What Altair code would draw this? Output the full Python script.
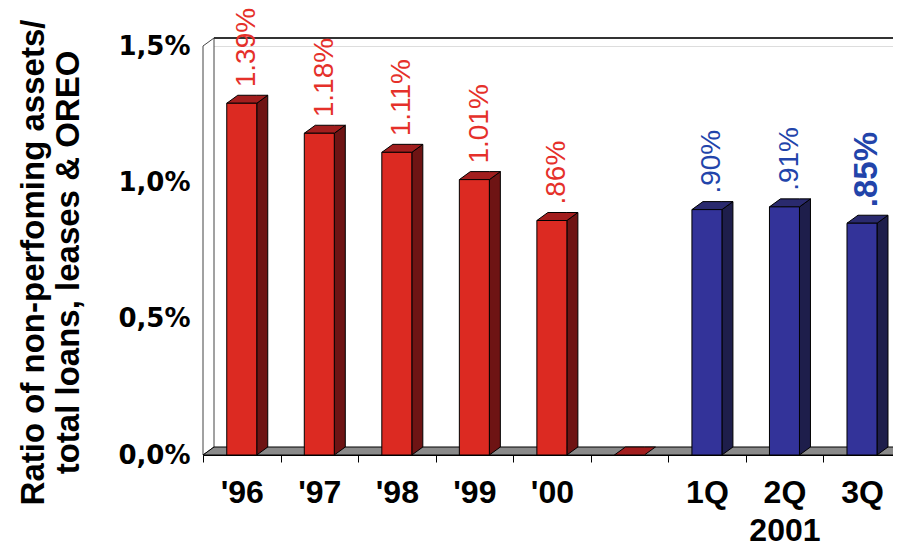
import altair as alt
import pandas as pd

# ---- data ----
categories = ["'96", "'97", "'98", "'99", "'00", "", "1Q", "2Q", "3Q"]
bar_values = [1.29, 1.18, 1.11, 1.01, 0.86, 0.0, 0.90, 0.91, 0.85]
value_labels = ["1.39%", "1.18%", "1.11%", "1.01%", ".86%", "", ".90%", ".91%", ".85%"]
period_type = ["year", "year", "year", "year", "year", "year", "quarter", "quarter", "quarter"]
bold_label = [False, False, False, False, False, False, False, False, True]
y_ticks = [0.0, 0.5, 1.0, 1.5]
year_2001 = "2001"

# ---- style ----
FRONT = {"year": "#DC2A22", "quarter": "#333399"}
SIDE = {"year": "#6E1414", "quarter": "#1E1E4B"}
TOP = {"year": "#A21E1E", "quarter": "#2A2A6E"}
TEXT = {"year": "#E5302A", "quarter": "#2244AA"}
PX_X = 690 / 8.9          # pixels per category unit
PX_Y = 409 / 1.5          # pixels per percent
DX = 11 / PX_X            # 3D depth (x)
DY = 8 / PX_Y             # 3D depth (y)
HALF = 15 / PX_X          # half bar width
GAP = 8 / PX_Y            # gap between bar and its label
XMAX = 8.9
YMAX = 1.5

front_rows, poly_rows, label_rows = [], [], []
for i, (c, v, lab, p, b) in enumerate(zip(categories, bar_values, value_labels, period_type, bold_label)):
    cx = i + 0.5
    x0, x1 = cx - HALF, cx + HALF
    if v > 0:
        front_rows.append({"x0": x0, "x1": x1, "v": v, "base": 0.0, "fill": FRONT[p]})
        sid = f"side{i}"
        poly_rows += [
            {"id": sid, "x": x1, "lo": 0.0, "hi": v, "fill": SIDE[p]},
            {"id": sid, "x": x1 + DX, "lo": DY, "hi": v + DY, "fill": SIDE[p]},
        ]
    tid = f"top{i}"
    poly_rows += [
        {"id": tid, "x": x0, "lo": v, "hi": v, "fill": TOP[p]},
        {"id": tid, "x": x0 + DX, "lo": v, "hi": v + DY, "fill": TOP[p]},
        {"id": tid, "x": x1, "lo": v, "hi": v + DY, "fill": TOP[p]},
        {"id": tid, "x": x1 + DX, "lo": v + DY, "hi": v + DY, "fill": TOP[p]},
    ]
    if lab:
        label_rows.append({"x": cx + DX / 2, "y": v + DY + GAP, "label": lab,
                           "tcolor": TEXT[p], "bold": b})

front_df = pd.DataFrame(front_rows)
poly_df = pd.DataFrame(poly_rows)
label_df = pd.DataFrame(label_rows)

wall_df = pd.DataFrame([
    {"x": 0.0, "lo": 0.0, "hi": YMAX},
    {"x": DX, "lo": DY, "hi": YMAX + DY},
])
floor_df = pd.DataFrame([
    {"x": 0.0, "lo": 0.0, "hi": 0.0},
    {"x": DX, "lo": 0.0, "hi": DY},
    {"x": 9.3, "lo": 0.0, "hi": DY},
])
backline_df = pd.DataFrame([{"x": DX, "x2": 9.3, "y": YMAX + DY}])

tick_vals = [k * 0.5 for k in range(18)]
cat_js = "[" + ",".join(
    ('["2Q","' + year_2001 + '"]') if c == "2Q" else ('"' + c + '"') for c in categories
) + "]"

xscale = alt.Scale(domain=[0, XMAX], nice=False)
yscale = alt.Scale(domain=[0, YMAX], nice=False)

x_axis = alt.Axis(
    values=tick_vals,
    grid=False,
    domainColor="black",
    domainWidth=1,
    tickColor="black",
    tickSize=7,
    tickOpacity=alt.condition("datum.value % 1 == 0", alt.value(1), alt.value(0)),
    labelExpr=f"datum.value % 1 == 0 ? '' : {cat_js}[floor(datum.value)]",
    labelFont="Liberation Sans",
    labelFontWeight="bold",
    labelFontSize=32,
    labelColor="black",
    labelPadding=15,
    labelLineHeight=38,
    labelOverlap=False,
    labelFlush=False,
    title=None,
    zindex=1,
)
y_axis = alt.Axis(
    values=y_ticks,
    grid=False,
    domain=False,
    ticks=False,
    labelExpr="replace(format(datum.value, '.1f'), '.', ',') + '%'",
    labelFont="DejaVu Sans",
    labelFontWeight="bold",
    labelFontSize=26,
    labelColor="black",
    labelPadding=13,
    title=["Ratio of non-perfoming assets/", "total loans, leases & OREO"],
    titleFont="Liberation Sans",
    titleFontWeight="bold",
    titleFontSize=33,
    titleColor="black",
    titleAngle=270,
    titleAlign="center",
    titleBaseline="alphabetic",
    titleLineHeight=35,
    titleX=-160,
    titleY=216,
)

wall = alt.Chart(wall_df).mark_area(
    orient="vertical", fill="white", stroke="#444444", strokeWidth=1
).encode(
    x=alt.X("x:Q", scale=xscale, axis=x_axis),
    y=alt.Y("hi:Q", scale=yscale, axis=y_axis),
    y2="lo:Q",
)

backline = alt.Chart(backline_df).mark_rule(color="#333333", strokeWidth=2).encode(
    x=alt.X("x:Q", scale=xscale), x2="x2:Q", y=alt.Y("y:Q", scale=yscale)
)

floor = alt.Chart(floor_df).mark_area(
    orient="vertical", fill="#8A8A8A", stroke="black", strokeWidth=1
).encode(
    x=alt.X("x:Q", scale=xscale), y=alt.Y("hi:Q", scale=yscale), y2="lo:Q"
)

faces = alt.Chart(poly_df).mark_area(
    orient="vertical", stroke="black", strokeWidth=1
).encode(
    x=alt.X("x:Q", scale=xscale),
    y=alt.Y("hi:Q", scale=yscale),
    y2="lo:Q",
    detail="id:N",
    color=alt.Color("fill:N", scale=None),
)

fronts = alt.Chart(front_df).mark_rect(stroke="black", strokeWidth=1).encode(
    x=alt.X("x0:Q", scale=xscale),
    x2="x1:Q",
    y=alt.Y("v:Q", scale=yscale),
    y2="base:Q",
    color=alt.Color("fill:N", scale=None),
)

labels_normal = alt.Chart(label_df).transform_filter("!datum.bold").mark_text(
    angle=270, align="left", baseline="middle", font="Liberation Sans", fontSize=28
).encode(
    x=alt.X("x:Q", scale=xscale),
    y=alt.Y("y:Q", scale=yscale),
    text="label:N",
    color=alt.Color("tcolor:N", scale=None),
)
labels_bold = alt.Chart(label_df).transform_filter("datum.bold").mark_text(
    angle=270, align="left", baseline="middle", font="Liberation Sans",
    fontSize=33, fontWeight="bold"
).encode(
    x=alt.X("x:Q", scale=xscale),
    y=alt.Y("y:Q", scale=yscale),
    text="label:N",
    color=alt.Color("tcolor:N", scale=None),
)

chart = alt.layer(
    wall, backline, floor, faces, fronts, labels_normal, labels_bold
).properties(
    width=690,
    height=409,
    autosize=alt.AutoSizeParams(type="none"),
    padding={"left": 195, "top": 38, "right": 0, "bottom": 92},
).configure_view(stroke=None).configure(background="white")

chart.save("out.html", embed_options={"renderer": "svg", "actions": False})
